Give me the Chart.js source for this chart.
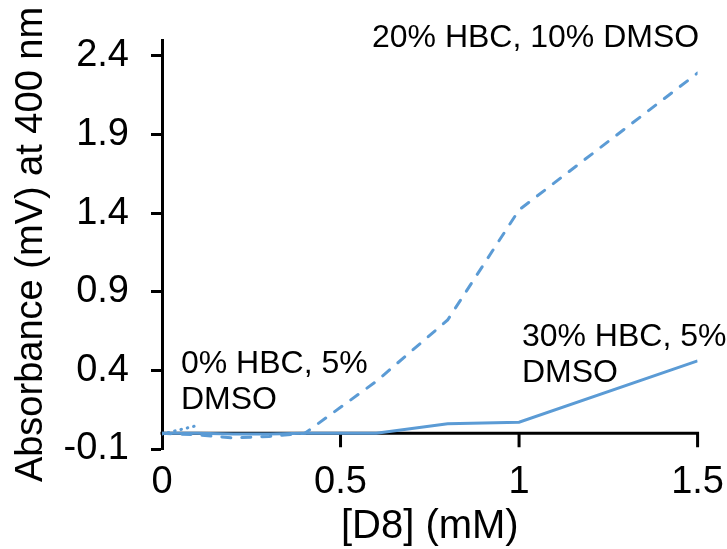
<!DOCTYPE html>
<html>
<head>
<meta charset="utf-8">
<script src="https://cdn.jsdelivr.net/npm/chart.js@4/dist/chart.umd.min.js"></script>
<style>
body { margin: 0; background: #fff; }
</style>
</head>
<body>
<canvas id="chart" width="727" height="549"></canvas>
<script>
// values
const xTicks = [0, 0.5, 1, 1.5];
const yTicks = [-0.1, 0.4, 0.9, 1.4, 1.9, 2.4];

const conc20 = [0, 0.1, 0.2, 0.3, 0.4, 0.6, 0.8, 1, 1.5];
const abs20 = [0, -0.01, -0.03, -0.02, 0, 0.33, 0.72, 1.42, 2.29];

const conc30 = [0, 0.1, 0.2, 0.3, 0.4, 0.6, 0.8, 1, 1.5];
const abs30 = [0, 0, -0.005, -0.005, 0, 0, 0.06, 0.07, 0.46];

const conc0 = [0, 0.1];
const abs0 = [-0.005, 0.05];

const blue = "#5b9bd5";
const font = "'Liberation Sans', Arial, sans-serif";

function pts(xs, ys) {
   return xs.map((x, i) => ({x: x, y: ys[i]}));
}

// x axis sits at y = 0, not at the bottom of the plot
const zeroAxis = {
   id: "zeroAxis",
   beforeDatasetsDraw(chart) {
      const ctx = chart.ctx;
      const xs = chart.scales.x, ys = chart.scales.y;
      const y0 = ys.getPixelForValue(0);
      ctx.save();
      ctx.strokeStyle = "#000";
      ctx.lineWidth = 3;
      ctx.beginPath();
      ctx.moveTo(xs.left - 1.5, y0);
      ctx.lineTo(xs.right + 1.5, y0);
      xTicks.forEach(v => {
         if (v === 0) return;
         const px = xs.getPixelForValue(v);
         ctx.moveTo(px, y0);
         ctx.lineTo(px, y0 + 14);
      });
      ctx.stroke();
      ctx.restore();
   }
};

const notes = [
   {lines: ["20% HBC, 10% DMSO"], x: 0.588, y: 2.51},
   {lines: ["0% HBC, 5%", "DMSO"], x: 0.053, y: 0.437},
   {lines: ["30% HBC, 5%", "DMSO"], x: 1.008, y: 0.61}
];

const labels = {
   id: "labels",
   afterDraw(chart) {
      const ctx = chart.ctx;
      const xs = chart.scales.x, ys = chart.scales.y;
      ctx.save();
      ctx.fillStyle = "#000";
      ctx.font = "32px " + font;
      ctx.textAlign = "left";
      ctx.textBaseline = "middle";
      notes.forEach(n => {
         const px = xs.getPixelForValue(n.x);
         const py = ys.getPixelForValue(n.y);
         n.lines.forEach((t, i) => ctx.fillText(t, px, py + i * 36));
      });
      ctx.restore();
   }
};

new Chart(document.getElementById("chart"), {
   type: "line",
   data: {
      datasets: [
         {
            label: "20% HBC, 10% DMSO",
            data: pts(conc20, abs20),
            borderColor: blue,
            borderWidth: 3,
            borderDash: [9, 11],
            borderCapStyle: "round",
            pointRadius: 0,
            tension: 0
         },
         {
            label: "30% HBC, 5% DMSO",
            data: pts(conc30, abs30),
            borderColor: blue,
            borderWidth: 3,
            pointRadius: 0,
            tension: 0
         },
         {
            label: "0% HBC, 5% DMSO",
            data: pts(conc0, abs0),
            borderColor: blue,
            borderWidth: 3,
            borderDash: [0.5, 6],
            borderCapStyle: "round",
            pointRadius: 0,
            tension: 0
         }
      ]
   },
   options: {
      responsive: false,
      animation: false,
      layout: {padding: {left: 9, right: 19, top: 40, bottom: 0}},
      plugins: {
         legend: {display: false},
         tooltip: {enabled: false}
      },
      scales: {
         x: {
            type: "linear",
            min: 0,
            max: 1.5,
            afterBuildTicks: s => { s.ticks = xTicks.map(v => ({value: v})); },
            afterFit: s => { s.height = 100; },
            border: {display: false},
            grid: {display: false},
            ticks: {
               color: "#000",
               padding: 3,
               maxRotation: 0,
               font: {family: font, size: 38},
               callback: v => String(v)
            },
            title: {
               display: true,
               text: "[D8] (mM)",
               color: "#000",
               padding: {top: 0, bottom: 0},
               font: {family: font, size: 40, lineHeight: 1.1}
            }
         },
         y: {
            type: "linear",
            min: -0.1,
            max: 2.5,
            afterBuildTicks: s => { s.ticks = yTicks.map(v => ({value: v})); },
            afterFit: s => { s.width = 153; },
            border: {display: true, color: "#000", width: 3},
            grid: {
               drawOnChartArea: false,
               drawTicks: true,
               tickLength: 11,
               tickColor: "#000",
               tickWidth: 3
            },
            ticks: {
               color: "#000",
               padding: 22,
               font: {family: font, size: 38, lineHeight: 0.9},
               callback: v => String(v)
            },
            title: {
               display: true,
               text: "Absorbance (mV) at 400 nm",
               color: "#000",
               padding: {top: 0, bottom: 0},
               font: {family: font, size: 38}
            }
         }
      }
   },
   plugins: [zeroAxis, labels]
});
</script>
</body>
</html>
